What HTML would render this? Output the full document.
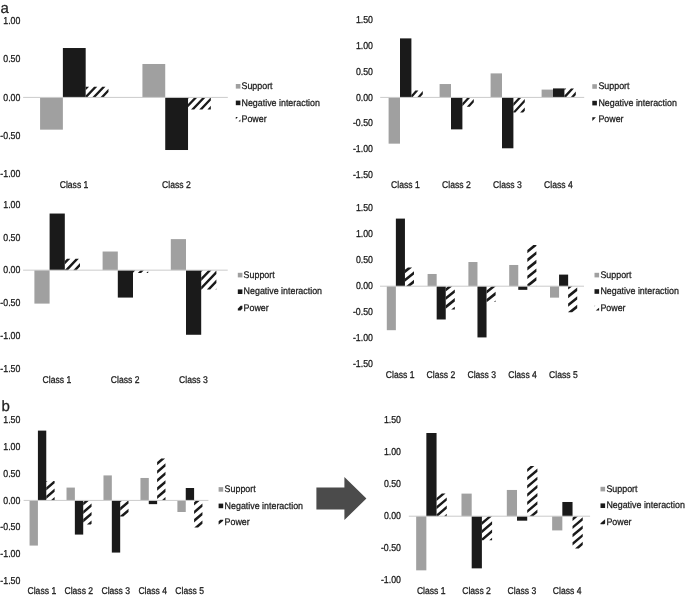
<!DOCTYPE html>
<html><head><meta charset="utf-8"><title>Figure</title>
<style>
html,body{margin:0;padding:0;background:#fff;}
svg{display:block;will-change:transform;}
text{font-family:"Liberation Sans", Arial, sans-serif;fill:#1c1c1c;stroke:#1c1c1c;stroke-width:0.25px;text-rendering:geometricPrecision;}
.t{font-size:8.8px;}
.c{font-size:8.6px;}
.l{font-size:8.9px;}
.p{font-size:15px;}
</style></head><body>
<svg width="685" height="596" viewBox="0 0 685 596">
<rect width="685" height="596" fill="#fff"/>
<g id="chart1">
<rect x="40.08" y="97.40" width="22.80" height="32.26" fill="#a0a0a0"/>
<rect x="62.88" y="48.02" width="22.80" height="49.38" fill="#1a1a1a"/>
<path d="M85.89,86.65 L89.08,86.65 L85.68,90.22 L85.68,86.87Z M94.08,86.65 L97.27,86.65 L87.03,97.40 L85.68,97.40 L85.68,95.47Z M102.27,86.65 L105.46,86.65 L95.22,97.40 L92.03,97.40Z M108.48,88.73 L108.48,92.08 L103.41,97.40 L100.22,97.40Z M108.48,97.33 L108.48,97.40 L108.41,97.40Z" fill="#1a1a1a"/>
<rect x="142.43" y="63.99" width="22.80" height="33.41" fill="#a0a0a0"/>
<rect x="165.23" y="97.40" width="22.80" height="52.61" fill="#1a1a1a"/>
<path d="M188.03,97.40 L189.24,97.40 L188.03,98.68Z M194.24,97.40 L197.43,97.40 L188.03,107.28 L188.03,103.92Z M202.43,97.40 L205.62,97.40 L194.21,109.38 L191.02,109.38Z M210.62,97.40 L210.83,97.40 L210.83,100.54 L202.40,109.38 L199.21,109.38Z M210.83,105.78 L210.83,109.14 L210.59,109.38 L207.40,109.38Z" fill="#1a1a1a"/>
<rect x="23.1" y="96.90" width="204.7" height="1" fill="#cbcbcb"/>
<text class="t" transform="translate(20.40,23.75) scale(1,1.14)" text-anchor="end">1.00</text>
<text class="t" transform="translate(20.40,62.15) scale(1,1.14)" text-anchor="end">0.50</text>
<text class="t" transform="translate(20.40,100.55) scale(1,1.14)" text-anchor="end">0.00</text>
<text class="t" transform="translate(20.40,138.95) scale(1,1.14)" text-anchor="end">-0.50</text>
<text class="t" transform="translate(20.40,177.35) scale(1,1.14)" text-anchor="end">-1.00</text>
<text class="c" transform="translate(74.03,188.45) scale(1,1.14)" text-anchor="middle">Class 1</text>
<text class="c" transform="translate(176.38,188.45) scale(1,1.14)" text-anchor="middle">Class 2</text>
<rect x="235.8" y="84.00" width="4.6" height="4.6" fill="#a0a0a0"/>
<text class="l" transform="translate(241.50,88.90) scale(1,1.08)">Support</text>
<rect x="235.8" y="100.60" width="4.6" height="4.6" fill="#1a1a1a"/>
<text class="l" transform="translate(241.50,105.50) scale(1,1.08)">Negative interaction</text>
<path d="M235.80,117.00 L237.90,117.00 L235.80,119.21Z M240.40,119.62 L240.40,121.60 L238.52,121.60Z" fill="#1a1a1a"/>
<text class="l" transform="translate(241.50,121.90) scale(1,1.08)">Power</text>
</g>
<g id="chart2">
<rect x="388.60" y="97.40" width="11.40" height="46.26" fill="#a0a0a0"/>
<rect x="400.00" y="38.39" width="11.40" height="59.01" fill="#1a1a1a"/>
<path d="M415.41,90.62 L418.42,90.62 L412.25,97.40 L411.40,97.40 L411.40,95.02Z M422.80,90.98 L422.80,94.30 L419.98,97.40 L416.97,97.40Z" fill="#1a1a1a"/>
<rect x="439.60" y="84.04" width="11.40" height="13.36" fill="#a0a0a0"/>
<rect x="451.00" y="97.40" width="11.40" height="31.97" fill="#1a1a1a"/>
<path d="M462.40,97.40 L462.73,97.40 L462.40,97.77Z M467.45,97.40 L470.46,97.40 L462.40,106.27 L462.40,102.95Z M473.80,98.91 L473.80,102.23 L469.78,106.65 L466.76,106.65Z" fill="#1a1a1a"/>
<rect x="490.60" y="73.40" width="11.40" height="24.00" fill="#a0a0a0"/>
<rect x="502.00" y="97.40" width="11.40" height="50.89" fill="#1a1a1a"/>
<path d="M513.40,97.40 L513.76,97.40 L513.40,97.80Z M518.47,97.40 L521.49,97.40 L513.40,106.30 L513.40,102.98Z M524.80,98.94 L524.80,102.26 L515.38,112.61 L513.40,112.61 L513.40,111.48Z M524.80,107.44 L524.80,110.76 L523.11,112.61 L520.10,112.61Z" fill="#1a1a1a"/>
<rect x="541.60" y="89.59" width="11.40" height="7.81" fill="#a0a0a0"/>
<rect x="553.00" y="88.41" width="11.40" height="8.99" fill="#1a1a1a"/>
<path d="M564.40,88.41 L566.24,88.41 L564.40,90.43Z M570.96,88.41 L573.97,88.41 L565.79,97.40 L564.40,97.40 L564.40,95.62Z M575.80,91.58 L575.80,94.89 L573.52,97.40 L570.51,97.40Z" fill="#1a1a1a"/>
<rect x="380.2" y="96.90" width="204.0" height="1" fill="#cbcbcb"/>
<text class="t" transform="translate(373.00,23.45) scale(1,1.14)" text-anchor="end">1.50</text>
<text class="t" transform="translate(373.00,49.15) scale(1,1.14)" text-anchor="end">1.00</text>
<text class="t" transform="translate(373.00,74.85) scale(1,1.14)" text-anchor="end">0.50</text>
<text class="t" transform="translate(373.00,100.55) scale(1,1.14)" text-anchor="end">0.00</text>
<text class="t" transform="translate(373.00,126.25) scale(1,1.14)" text-anchor="end">-0.50</text>
<text class="t" transform="translate(373.00,151.95) scale(1,1.14)" text-anchor="end">-1.00</text>
<text class="t" transform="translate(373.00,177.65) scale(1,1.14)" text-anchor="end">-1.50</text>
<text class="c" transform="translate(405.45,188.45) scale(1,1.14)" text-anchor="middle">Class 1</text>
<text class="c" transform="translate(456.45,188.45) scale(1,1.14)" text-anchor="middle">Class 2</text>
<text class="c" transform="translate(507.45,188.45) scale(1,1.14)" text-anchor="middle">Class 3</text>
<text class="c" transform="translate(558.45,188.45) scale(1,1.14)" text-anchor="middle">Class 4</text>
<rect x="592.3" y="84.20" width="4.6" height="4.6" fill="#a0a0a0"/>
<text class="l" transform="translate(598.40,89.10) scale(1,1.08)">Support</text>
<rect x="592.3" y="100.80" width="4.6" height="4.6" fill="#1a1a1a"/>
<text class="l" transform="translate(598.40,105.70) scale(1,1.08)">Negative interaction</text>
<path d="M592.30,117.20 L595.86,117.20 L592.30,121.12Z" fill="#1a1a1a"/>
<text class="l" transform="translate(598.40,122.10) scale(1,1.08)">Power</text>
</g>
<g id="chart3">
<rect x="34.40" y="270.15" width="15.20" height="33.46" fill="#a0a0a0"/>
<rect x="49.60" y="213.54" width="15.20" height="56.61" fill="#1a1a1a"/>
<path d="M66.97,258.74 L70.31,258.74 L64.80,264.52 L64.80,261.01Z M75.54,258.74 L78.89,258.74 L68.01,270.15 L64.80,270.15 L64.80,270.01Z M80.00,263.06 L80.00,266.56 L76.59,270.15 L73.24,270.15Z" fill="#1a1a1a"/>
<rect x="102.60" y="251.52" width="15.20" height="18.63" fill="#a0a0a0"/>
<rect x="117.80" y="270.15" width="15.20" height="27.42" fill="#1a1a1a"/>
<path d="M133.00,270.15 L135.37,270.15 L133.00,272.63Z M140.60,270.15 L143.94,270.15 L141.13,273.10 L137.78,273.10Z M148.20,271.16 L148.20,273.10 L146.36,273.10Z" fill="#1a1a1a"/>
<rect x="170.80" y="239.12" width="15.20" height="31.03" fill="#a0a0a0"/>
<rect x="186.00" y="270.15" width="15.20" height="64.62" fill="#1a1a1a"/>
<path d="M201.20,270.15 L202.99,270.15 L201.20,272.02Z M208.21,270.15 L211.56,270.15 L201.20,281.02 L201.20,277.51Z M216.40,270.55 L216.40,274.06 L201.64,289.57 L201.20,289.57 L201.20,286.51Z M216.40,279.55 L216.40,283.06 L210.21,289.57 L206.86,289.57Z M216.40,288.55 L216.40,289.57 L215.44,289.57Z" fill="#1a1a1a"/>
<rect x="23.1" y="269.65" width="204.6" height="1" fill="#cbcbcb"/>
<text class="t" transform="translate(20.40,207.70) scale(1,1.14)" text-anchor="end">1.00</text>
<text class="t" transform="translate(20.40,240.50) scale(1,1.14)" text-anchor="end">0.50</text>
<text class="t" transform="translate(20.40,273.30) scale(1,1.14)" text-anchor="end">0.00</text>
<text class="t" transform="translate(20.40,306.10) scale(1,1.14)" text-anchor="end">-0.50</text>
<text class="t" transform="translate(20.40,338.90) scale(1,1.14)" text-anchor="end">-1.00</text>
<text class="t" transform="translate(20.40,371.70) scale(1,1.14)" text-anchor="end">-1.50</text>
<text class="c" transform="translate(56.95,382.85) scale(1,1.14)" text-anchor="middle">Class 1</text>
<text class="c" transform="translate(125.15,382.85) scale(1,1.14)" text-anchor="middle">Class 2</text>
<text class="c" transform="translate(193.35,382.85) scale(1,1.14)" text-anchor="middle">Class 3</text>
<rect x="237.8" y="272.80" width="4.6" height="4.6" fill="#a0a0a0"/>
<text class="l" transform="translate(243.60,277.70) scale(1,1.08)">Support</text>
<rect x="237.8" y="289.40" width="4.6" height="4.6" fill="#1a1a1a"/>
<text class="l" transform="translate(243.60,294.30) scale(1,1.08)">Negative interaction</text>
<path d="M240.63,305.80 L242.40,305.80 L242.40,308.62 L240.70,310.40 L237.80,310.40 L237.80,308.77Z" fill="#1a1a1a"/>
<text class="l" transform="translate(243.60,310.70) scale(1,1.08)">Power</text>
</g>
<g id="chart4">
<rect x="386.80" y="286.20" width="9.07" height="43.99" fill="#a0a0a0"/>
<rect x="395.87" y="218.60" width="9.07" height="67.60" fill="#1a1a1a"/>
<path d="M407.90,267.48 L412.10,267.48 L404.94,273.21 L404.94,269.85Z M414.00,271.20 L414.00,274.55 L404.94,281.81 L404.94,278.45Z M414.00,279.80 L414.00,283.15 L410.20,286.20 L406.00,286.20Z" fill="#1a1a1a"/>
<rect x="427.60" y="273.98" width="9.07" height="12.22" fill="#a0a0a0"/>
<rect x="436.67" y="286.20" width="9.07" height="33.28" fill="#1a1a1a"/>
<path d="M448.18,286.20 L452.37,286.20 L445.74,291.51 L445.74,288.15Z M454.81,289.50 L454.81,292.85 L445.74,300.11 L445.74,296.75Z M454.81,298.10 L454.81,301.45 L445.74,308.71 L445.74,305.35Z M454.81,306.70 L454.81,309.60 L451.18,309.60Z" fill="#1a1a1a"/>
<rect x="468.40" y="262.02" width="9.07" height="24.18" fill="#a0a0a0"/>
<rect x="477.47" y="286.20" width="9.07" height="51.22" fill="#1a1a1a"/>
<path d="M491.93,286.20 L495.61,286.20 L495.61,286.61 L486.54,293.87 L486.54,290.51Z M495.61,291.86 L495.61,295.21 L487.37,301.80 L486.54,301.80 L486.54,299.11Z M495.61,300.46 L495.61,301.80 L493.93,301.80Z" fill="#1a1a1a"/>
<rect x="509.19" y="264.98" width="9.07" height="21.22" fill="#a0a0a0"/>
<rect x="518.26" y="286.20" width="9.07" height="3.64" fill="#1a1a1a"/>
<path d="M533.34,245.12 L536.41,245.12 L536.41,246.02 L527.34,253.28 L527.34,249.92Z M536.41,251.27 L536.41,254.62 L527.34,261.88 L527.34,258.52Z M536.41,259.87 L536.41,263.22 L527.34,270.48 L527.34,267.12Z M536.41,268.47 L536.41,271.82 L527.34,279.08 L527.34,275.72Z M536.41,277.07 L536.41,280.42 L529.18,286.20 L527.34,286.20 L527.34,284.32Z M536.41,285.67 L536.41,286.20 L535.74,286.20Z" fill="#1a1a1a"/>
<rect x="550.00" y="286.20" width="9.07" height="11.44" fill="#a0a0a0"/>
<rect x="559.07" y="274.60" width="9.07" height="11.60" fill="#1a1a1a"/>
<path d="M568.20,286.20 L572.40,286.20 L568.13,289.61 L568.13,286.25Z M577.21,287.60 L577.21,290.95 L568.13,298.21 L568.13,294.85Z M577.21,296.20 L577.21,299.55 L568.13,306.81 L568.13,303.45Z M577.21,304.80 L577.21,308.15 L572.15,312.20 L568.13,312.20 L568.13,312.05Z" fill="#1a1a1a"/>
<rect x="380.0" y="285.70" width="204.0" height="1" fill="#cbcbcb"/>
<text class="t" transform="translate(373.00,211.35) scale(1,1.14)" text-anchor="end">1.50</text>
<text class="t" transform="translate(373.00,237.35) scale(1,1.14)" text-anchor="end">1.00</text>
<text class="t" transform="translate(373.00,263.35) scale(1,1.14)" text-anchor="end">0.50</text>
<text class="t" transform="translate(373.00,289.35) scale(1,1.14)" text-anchor="end">0.00</text>
<text class="t" transform="translate(373.00,315.35) scale(1,1.14)" text-anchor="end">-0.50</text>
<text class="t" transform="translate(373.00,341.35) scale(1,1.14)" text-anchor="end">-1.00</text>
<text class="t" transform="translate(373.00,367.35) scale(1,1.14)" text-anchor="end">-1.50</text>
<text class="c" transform="translate(400.15,378.05) scale(1,1.14)" text-anchor="middle">Class 1</text>
<text class="c" transform="translate(440.95,378.05) scale(1,1.14)" text-anchor="middle">Class 2</text>
<text class="c" transform="translate(481.75,378.05) scale(1,1.14)" text-anchor="middle">Class 3</text>
<text class="c" transform="translate(522.55,378.05) scale(1,1.14)" text-anchor="middle">Class 4</text>
<text class="c" transform="translate(563.35,378.05) scale(1,1.14)" text-anchor="middle">Class 5</text>
<rect x="594.5" y="272.80" width="4.6" height="4.6" fill="#a0a0a0"/>
<text class="l" transform="translate(600.40,277.70) scale(1,1.08)">Support</text>
<rect x="594.5" y="289.20" width="4.6" height="4.6" fill="#1a1a1a"/>
<text class="l" transform="translate(600.40,294.10) scale(1,1.08)">Negative interaction</text>
<path d="M594.50,305.80 L595.25,305.80 L594.50,306.40Z M599.10,307.72 L599.10,310.40 L595.75,310.40Z" fill="#1a1a1a"/>
<text class="l" transform="translate(600.40,310.70) scale(1,1.08)">Power</text>
</g>
<g id="chart5">
<rect x="29.56" y="500.40" width="8.35" height="45.18" fill="#a0a0a0"/>
<rect x="37.91" y="430.61" width="8.35" height="69.79" fill="#1a1a1a"/>
<path d="M46.26,481.02 L47.50,481.02 L46.26,482.08Z M53.49,481.02 L54.61,481.02 L54.61,483.35 L46.26,490.53 L46.26,487.24Z M54.61,488.51 L54.61,491.80 L46.26,498.98 L46.26,495.69Z M54.61,496.96 L54.61,500.25 L54.43,500.40 L50.60,500.40Z" fill="#1a1a1a"/>
<rect x="66.52" y="487.58" width="8.35" height="12.82" fill="#a0a0a0"/>
<rect x="74.86" y="500.40" width="8.35" height="34.18" fill="#1a1a1a"/>
<path d="M85.33,500.40 L89.16,500.40 L83.22,505.51 L83.22,502.22Z M91.56,503.48 L91.56,506.78 L83.22,513.96 L83.22,510.67Z M91.56,511.93 L91.56,515.23 L83.22,522.41 L83.22,519.12Z M91.56,520.38 L91.56,523.68 L90.69,524.43 L86.86,524.43Z" fill="#1a1a1a"/>
<rect x="103.48" y="475.41" width="8.35" height="24.99" fill="#a0a0a0"/>
<rect x="111.83" y="500.40" width="8.35" height="52.17" fill="#1a1a1a"/>
<path d="M120.18,500.40 L122.29,500.40 L120.18,502.22Z M128.28,500.40 L128.53,500.40 L128.53,503.49 L120.18,510.67 L120.18,507.37Z M128.53,508.64 L128.53,511.94 L123.31,516.42 L120.18,516.42 L120.18,515.82Z" fill="#1a1a1a"/>
<rect x="140.44" y="477.97" width="8.35" height="22.43" fill="#a0a0a0"/>
<rect x="148.78" y="500.40" width="8.35" height="3.74" fill="#1a1a1a"/>
<path d="M161.27,458.43 L165.10,458.43 L157.13,465.28 L157.13,461.98Z M165.48,463.25 L165.48,466.55 L157.13,473.73 L157.13,470.43Z M165.48,471.70 L165.48,475.00 L157.13,482.18 L157.13,478.88Z M165.48,480.15 L165.48,483.45 L157.13,490.63 L157.13,487.33Z M165.48,488.60 L165.48,491.90 L157.13,499.08 L157.13,495.78Z M165.48,497.05 L165.48,500.35 L165.43,500.40 L161.59,500.40Z" fill="#1a1a1a"/>
<rect x="177.40" y="500.40" width="8.35" height="11.59" fill="#a0a0a0"/>
<rect x="185.75" y="488.01" width="8.35" height="12.39" fill="#1a1a1a"/>
<path d="M196.21,500.40 L200.04,500.40 L194.09,505.51 L194.09,502.22Z M202.44,503.49 L202.44,506.78 L194.09,513.96 L194.09,510.67Z M202.44,511.94 L202.44,515.23 L194.09,522.41 L194.09,519.12Z M202.44,520.39 L202.44,523.68 L198.10,527.42 L194.27,527.42Z" fill="#1a1a1a"/>
<rect x="23.6" y="499.90" width="184.8" height="1" fill="#cbcbcb"/>
<text class="t" transform="translate(20.40,423.45) scale(1,1.14)" text-anchor="end">1.50</text>
<text class="t" transform="translate(20.40,450.15) scale(1,1.14)" text-anchor="end">1.00</text>
<text class="t" transform="translate(20.40,476.85) scale(1,1.14)" text-anchor="end">0.50</text>
<text class="t" transform="translate(20.40,503.55) scale(1,1.14)" text-anchor="end">0.00</text>
<text class="t" transform="translate(20.40,530.25) scale(1,1.14)" text-anchor="end">-0.50</text>
<text class="t" transform="translate(20.40,556.95) scale(1,1.14)" text-anchor="end">-1.00</text>
<text class="t" transform="translate(20.40,583.65) scale(1,1.14)" text-anchor="end">-1.50</text>
<text class="c" transform="translate(41.83,594.25) scale(1,1.14)" text-anchor="middle">Class 1</text>
<text class="c" transform="translate(78.79,594.25) scale(1,1.14)" text-anchor="middle">Class 2</text>
<text class="c" transform="translate(115.75,594.25) scale(1,1.14)" text-anchor="middle">Class 3</text>
<text class="c" transform="translate(152.71,594.25) scale(1,1.14)" text-anchor="middle">Class 4</text>
<text class="c" transform="translate(189.67,594.25) scale(1,1.14)" text-anchor="middle">Class 5</text>
<rect x="218.6" y="487.10" width="4.6" height="4.6" fill="#a0a0a0"/>
<text class="l" transform="translate(224.60,492.00) scale(1,1.08)">Support</text>
<rect x="218.6" y="503.60" width="4.6" height="4.6" fill="#1a1a1a"/>
<text class="l" transform="translate(224.60,508.50) scale(1,1.08)">Negative interaction</text>
<path d="M220.33,519.80 L223.20,519.80 L223.20,520.63 L218.81,524.40 L218.60,524.40 L218.60,521.29Z" fill="#1a1a1a"/>
<text class="l" transform="translate(224.60,524.70) scale(1,1.08)">Power</text>
</g>
<g id="chart6">
<rect x="416.16" y="516.20" width="10.20" height="54.14" fill="#a0a0a0"/>
<rect x="426.36" y="433.00" width="10.20" height="83.20" fill="#1a1a1a"/>
<path d="M441.82,493.42 L445.58,493.42 L436.56,501.08 L436.56,497.88Z M446.76,497.41 L446.76,500.61 L436.56,509.28 L436.56,506.08Z M446.76,505.61 L446.76,508.81 L438.07,516.20 L436.56,516.20 L436.56,514.28Z M446.76,513.81 L446.76,516.20 L443.95,516.20Z" fill="#1a1a1a"/>
<rect x="461.49" y="493.61" width="10.20" height="22.59" fill="#a0a0a0"/>
<rect x="471.69" y="516.20" width="10.20" height="52.16" fill="#1a1a1a"/>
<path d="M481.89,516.20 L482.63,516.20 L481.89,516.83Z M488.51,516.20 L492.09,516.20 L492.09,516.36 L481.89,525.03 L481.89,521.83Z M492.09,521.36 L492.09,524.56 L481.89,533.23 L481.89,530.03Z M492.09,529.56 L492.09,532.76 L483.33,540.20 L481.89,540.20 L481.89,538.23Z M492.09,537.76 L492.09,540.20 L489.22,540.20Z" fill="#1a1a1a"/>
<rect x="506.81" y="489.96" width="10.20" height="26.24" fill="#a0a0a0"/>
<rect x="517.01" y="516.20" width="10.20" height="4.48" fill="#1a1a1a"/>
<path d="M530.61,466.02 L534.37,466.02 L527.21,472.11 L527.21,468.91Z M537.41,468.44 L537.41,471.64 L527.21,480.31 L527.21,477.11Z M537.41,476.64 L537.41,479.84 L527.21,488.51 L527.21,485.31Z M537.41,484.84 L537.41,488.04 L527.21,496.71 L527.21,493.51Z M537.41,493.04 L537.41,496.24 L527.21,504.91 L527.21,501.71Z M537.41,501.24 L537.41,504.44 L527.21,513.11 L527.21,509.91Z M537.41,509.44 L537.41,512.64 L533.22,516.20 L529.46,516.20Z" fill="#1a1a1a"/>
<rect x="552.14" y="516.20" width="10.20" height="14.21" fill="#a0a0a0"/>
<rect x="562.34" y="501.99" width="10.20" height="14.21" fill="#1a1a1a"/>
<path d="M574.31,516.20 L578.07,516.20 L572.54,520.90 L572.54,517.70Z M582.74,517.23 L582.74,520.43 L572.54,529.10 L572.54,525.90Z M582.74,525.43 L582.74,528.63 L572.54,537.30 L572.54,534.10Z M582.74,533.63 L582.74,536.83 L572.54,545.50 L572.54,542.30Z M582.74,541.83 L582.74,545.03 L578.78,548.39 L575.02,548.39Z" fill="#1a1a1a"/>
<rect x="408.8" y="515.70" width="181.3" height="1" fill="#cbcbcb"/>
<text class="t" transform="translate(401.00,423.35) scale(1,1.14)" text-anchor="end">1.50</text>
<text class="t" transform="translate(401.00,455.35) scale(1,1.14)" text-anchor="end">1.00</text>
<text class="t" transform="translate(401.00,487.35) scale(1,1.14)" text-anchor="end">0.50</text>
<text class="t" transform="translate(401.00,519.35) scale(1,1.14)" text-anchor="end">0.00</text>
<text class="t" transform="translate(401.00,551.35) scale(1,1.14)" text-anchor="end">-0.50</text>
<text class="t" transform="translate(401.00,583.35) scale(1,1.14)" text-anchor="end">-1.00</text>
<text class="c" transform="translate(431.21,594.25) scale(1,1.14)" text-anchor="middle">Class 1</text>
<text class="c" transform="translate(476.54,594.25) scale(1,1.14)" text-anchor="middle">Class 2</text>
<text class="c" transform="translate(521.86,594.25) scale(1,1.14)" text-anchor="middle">Class 3</text>
<text class="c" transform="translate(567.19,594.25) scale(1,1.14)" text-anchor="middle">Class 4</text>
<rect x="600.5" y="486.80" width="4.6" height="4.6" fill="#a0a0a0"/>
<text class="l" transform="translate(606.40,491.70) scale(1,1.08)">Support</text>
<rect x="600.5" y="503.40" width="4.6" height="4.6" fill="#1a1a1a"/>
<text class="l" transform="translate(606.40,508.30) scale(1,1.08)">Negative interaction</text>
<path d="M604.77,519.60 L605.10,519.60 L605.10,523.42 L604.18,524.20 L600.50,524.20 L600.50,523.23Z" fill="#1a1a1a"/>
<text class="l" transform="translate(606.40,524.50) scale(1,1.08)">Power</text>
</g>
<text class="p" x="0.4" y="12.6">a</text>
<text class="p" x="1.4" y="411.0">b</text>
<polygon points="316.4,487.6 344.4,487.6 344.4,477 366.4,498.5 344.4,520 344.4,509.6 316.4,509.6" fill="#4b4b4b"/>
</svg>
</body></html>
